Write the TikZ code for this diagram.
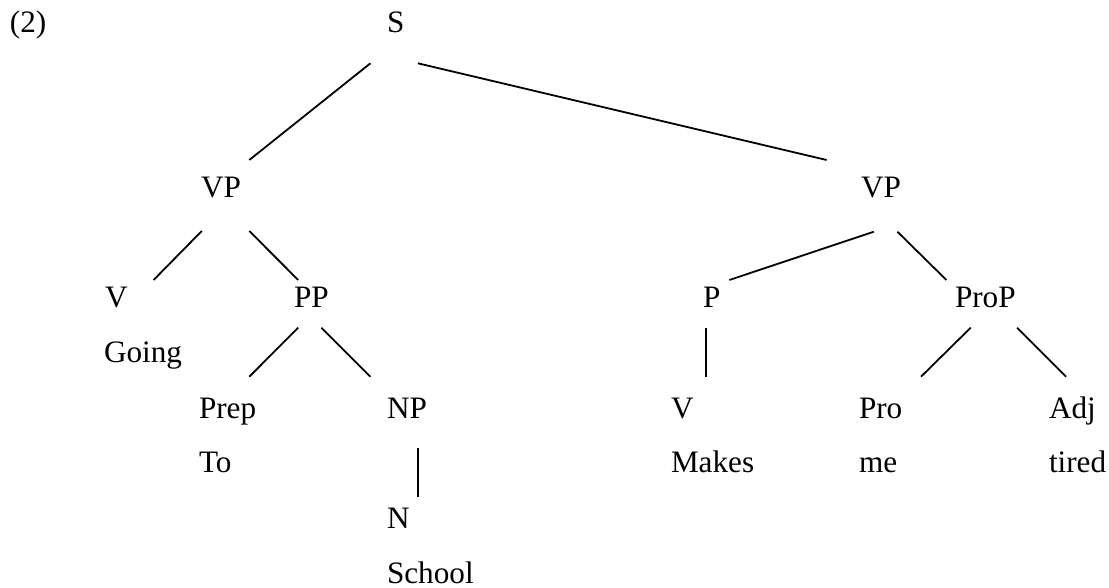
\documentclass[tikz,border=0pt]{standalone}
\usepackage{fontspec}
\setmainfont{Liberation Serif}
\newfontfamily\treefont{Liberation Serif}
\begin{document}
\begin{tikzpicture}[x=0.5pt,y=-0.5pt,
  lbl/.style={anchor=base west,inner sep=0pt,outer sep=0pt,font=\treefont\fontsize{15.6}{18}\selectfont},
  edge/.style={line width=0.9pt,line cap=butt}]
\useasboundingbox (0,0) rectangle (1109,588);
% labels (left x, baseline y)
\node[lbl] (num) at (10,33) {(2)};
\node[lbl] (S) at (387,33) {S};
\node[lbl] (VPL) at (201,198) {VP};
\node[lbl] (VPR) at (861,198) {VP};
\node[lbl] (V1) at (105,308) {V};
\node[lbl] (Going) at (104,363) {Going};
\node[lbl] (PP) at (294,308) {PP};
\node[lbl] (Prep) at (199,418) {Prep};
\node[lbl] (To) at (199,473) {To};
\node[lbl] (NP) at (387,418) {NP};
\node[lbl] (N) at (387,528) {N};
\node[lbl] (School) at (387,583) {School};
\node[lbl] (P) at (703,308) {P};
\node[lbl] (ProP) at (955,308) {ProP};
\node[lbl] (V2) at (671,418) {V};
\node[lbl] (Makes) at (671,473) {Makes};
\node[lbl] (Pro) at (859,418) {Pro};
\node[lbl] (me) at (859,473) {me};
\node[lbl] (Adj) at (1049,418) {Adj};
\node[lbl] (tired) at (1049,473) {tired};
% connector end points
\coordinate (S-a) at (370.4,63.3);  \coordinate (VPL-t) at (249.3,160);
\coordinate (S-b) at (417.9,63.3);  \coordinate (VPR-t) at (826.6,160);
\coordinate (VPL-a) at (201.8,231); \coordinate (V1-t) at (153.6,280);
\coordinate (VPL-b) at (249.3,231); \coordinate (PP-t) at (298.2,280);
\coordinate (VPR-a) at (873.8,231.7); \coordinate (P-t) at (729.4,280);
\coordinate (VPR-b) at (897.4,231.7); \coordinate (ProP-t) at (946.4,280);
\coordinate (PP-a) at (298.2,327.7); \coordinate (Prep-t) at (249.3,376.7);
\coordinate (PP-b) at (321.4,327.7); \coordinate (NP-t) at (370.4,376.7);
\coordinate (NP-a) at (417.9,447.7); \coordinate (N-t) at (417.9,496.7);
\coordinate (P-a) at (705.8,327.7); \coordinate (V2-t) at (705.8,376.7);
\coordinate (ProP-a) at (970.7,327.7); \coordinate (Pro-t) at (921,376.7);
\coordinate (ProP-b) at (1017.1,327.7); \coordinate (Adj-t) at (1066.1,376.7);
% connectors
\draw[edge] (S-a) -- (VPL-t);
\draw[edge] (S-b) -- (VPR-t);
\draw[edge] (VPL-a) -- (V1-t);
\draw[edge] (VPL-b) -- (PP-t);
\draw[edge] (VPR-a) -- (P-t);
\draw[edge] (VPR-b) -- (ProP-t);
\draw[edge] (PP-a) -- (Prep-t);
\draw[edge] (PP-b) -- (NP-t);
\draw[edge] (NP-a) -- (N-t);
\draw[edge] (P-a) -- (V2-t);
\draw[edge] (ProP-a) -- (Pro-t);
\draw[edge] (ProP-b) -- (Adj-t);
\end{tikzpicture}
\end{document}
